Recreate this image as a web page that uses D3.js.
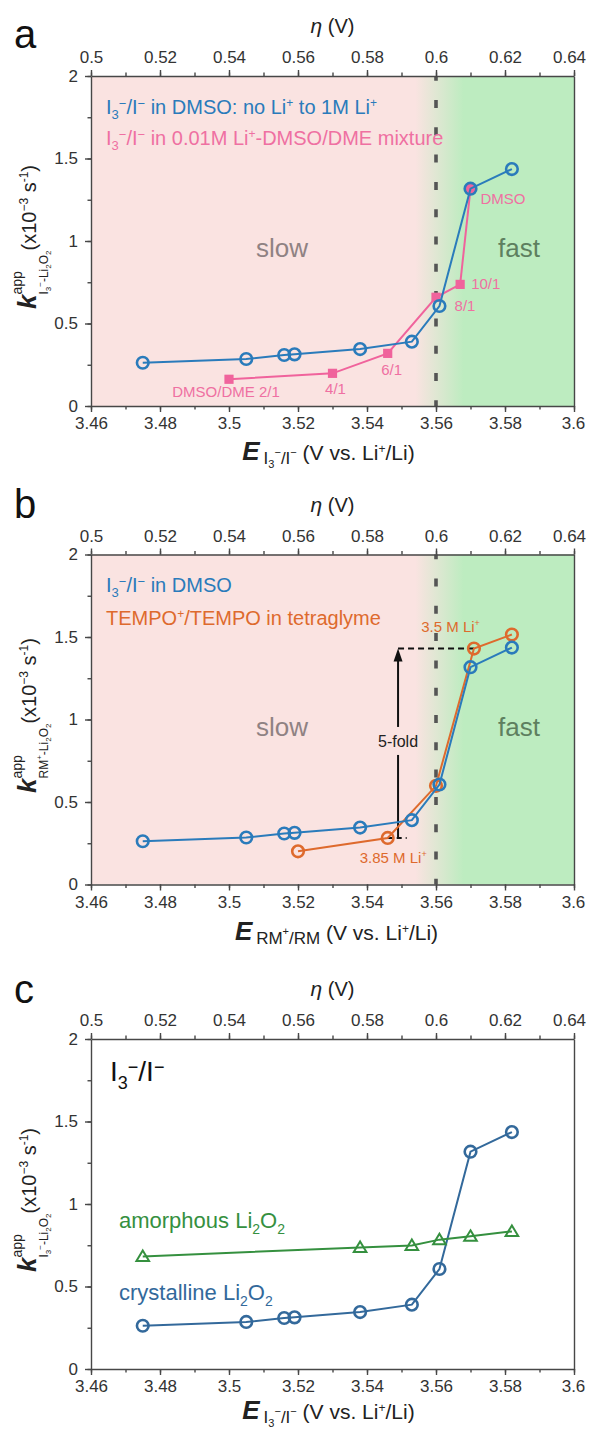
<!DOCTYPE html>
<html><head><meta charset="utf-8">
<script src="https://cdn.jsdelivr.net/npm/d3@7"></script>
<style>
body{margin:0;background:#fff}
svg{display:block}
text{font-family:"Liberation Sans",Arial,Helvetica,sans-serif}
</style>
</head><body>
<svg id="chart" width="589" height="1430"></svg>
<script>
// ---------------- DATA ----------------
const xTickValues = [3.46, 3.48, 3.5, 3.52, 3.54, 3.56, 3.58, 3.6];
const xTickLabels = ["3.46", "3.48", "3.5", "3.52", "3.54", "3.56", "3.58", "3.6"];
const etaTickValues = [0.5, 0.52, 0.54, 0.56, 0.58, 0.6, 0.62, 0.64];
const etaTickLabels = ["0.5", "0.52", "0.54", "0.56", "0.58", "0.6", "0.62", "0.64"];
const yTickValues = [0, 0.5, 1, 1.5, 2];
const yTickLabels = ["0", "0.5", "1", "1.5", "2"];

// I3-/I- in DMSO (crystalline Li2O2)
const E_dmso = [3.475, 3.505, 3.516, 3.519, 3.538, 3.553, 3.561, 3.570, 3.582];
const k_dmso = [0.262, 0.285, 0.309, 0.313, 0.345, 0.390, 0.606, 1.317, 1.436];

// I3-/I- in 0.01M Li+ DMSO/DME mixture
const E_mix = [3.500, 3.530, 3.546, 3.560, 3.567, 3.570];
const k_mix = [0.162, 0.198, 0.319, 0.659, 0.737, 1.317];
const mixLabels = ["DMSO/DME 2/1", "4/1", "6/1", "8/1", "10/1", "DMSO"];

// TEMPO+/TEMPO in tetraglyme
const E_tempo = [3.520, 3.546, 3.560, 3.571, 3.582];
const k_tempo = [0.201, 0.282, 0.598, 1.430, 1.515];
const tempoLabels = ["3.85 M Li", "", "", "3.5 M Li", ""];

// amorphous Li2O2
const E_amorph = [3.475, 3.538, 3.553, 3.561, 3.570, 3.582];
const k_amorph = [0.682, 0.737, 0.749, 0.784, 0.804, 0.834];

// 5-fold annotation (E, k bottom, k top)
const foldE = 3.549;
const foldKLow = 0.282;
const foldKHigh = 1.430;

// ---------------- LAYOUT ----------------
const FONT = '"Liberation Sans",Arial,Helvetica,sans-serif';
const svg = d3.select("#chart");
const L = 91, R = 574, H = 330;
const x = d3.scaleLinear().domain([3.46, 3.6]).range([L, R]);
const eta = d3.scaleLinear().domain([0.5, 0.64]).range([L, R]);

const C = {
  blue: "#2a7bbb", pink: "#f0639c", pinkText: "#ef70a2", orange: "#de6a2d",
  blueC: "#33699b", green: "#35903f", axis: "#474747", tick: "#333",
  pinkBg: "#fae3e1", greenBg: "#bdecc0"
};

const defs = svg.append("defs");
const grad = defs.append("linearGradient").attr("id", "bgGrad")
  .attr("gradientUnits", "userSpaceOnUse")
  .attr("x1", x(3.554)).attr("x2", x(3.568)).attr("y1", 0).attr("y2", 0);
grad.append("stop").attr("offset", "0%").attr("stop-color", C.pinkBg);
grad.append("stop").attr("offset", "100%").attr("stop-color", C.greenBg);

// rich text helper
function renderSeq(g, pieces, start, fill) {
  let cur = start;
  pieces.forEach(p => {
    if (p.stack) {
      const ends = p.stack.map(line => renderSeq(g, line, cur, fill));
      cur = Math.max(...ends);
      return;
    }
    cur += p.dx || 0;
    const t = g.append("text").attr("x", cur).attr("y", p.dy || 0)
      .attr("font-size", p.s).attr("fill", p.fill || fill)
      .text(p.t.replace(/ /g, "\u00A0"));
    if (p.b) t.attr("font-weight", "bold");
    if (p.i) t.attr("font-style", "italic");
    cur += t.node().getComputedTextLength();
  });
  return cur;
}
function rich(parent, pieces, px, py, opts = {}) {
  const g = parent.append("g").attr("transform", `translate(${px},${py}) rotate(${opts.rot || 0})`);
  const inner = g.append("g");
  const w = renderSeq(inner, pieces, 0, opts.fill || "#222");
  if (opts.anchor === "middle") inner.attr("transform", `translate(${-w / 2},0)`);
  return g;
}

function drawAxes(g, y, top) {
  const bottom = top + H;
  const minorX = d3.range(3.46, 3.6001, 0.01);
  const minorEta = d3.range(0.5, 0.6401, 0.01);
  const minorY = d3.range(0, 2.001, 0.25);

  const styleAxis = sel => {
    sel.attr("font-family", FONT).attr("font-size", 17);
    sel.selectAll("path,line").attr("stroke", C.axis).attr("stroke-width", 1.4);
    sel.selectAll("text").attr("fill", C.tick);
  };
  g.append("g").attr("transform", `translate(0,${bottom})`)
    .call(d3.axisBottom(x).tickValues(minorX).tickSize(3.5).tickFormat(""))
    .call(s => s.select(".domain").remove()).call(styleAxis);
  g.append("g").attr("transform", `translate(0,${top})`)
    .call(d3.axisTop(eta).tickValues(minorEta).tickSize(3.5).tickFormat(""))
    .call(s => s.select(".domain").remove()).call(styleAxis);
  g.append("g").attr("transform", `translate(${L},0)`)
    .call(d3.axisLeft(y).tickValues(minorY).tickSize(3.5).tickFormat(""))
    .call(s => s.select(".domain").remove()).call(styleAxis);
  g.append("g").attr("transform", `translate(0,${bottom})`)
    .call(d3.axisBottom(x).tickValues(xTickValues).tickFormat((d, i) => xTickLabels[i])
      .tickSize(6).tickSizeOuter(0).tickPadding(5)).call(styleAxis)
    .call(s => s.selectAll(".tick text").filter(d => d === 3.6).attr("dx", -1));
  g.append("g").attr("transform", `translate(0,${top})`)
    .call(d3.axisTop(eta).tickValues(etaTickValues).tickFormat((d, i) => etaTickLabels[i])
      .tickSize(6).tickSizeOuter(0).tickPadding(7)).call(styleAxis)
    .call(s => s.selectAll(".tick text").filter(d => d === 0.64).attr("dx", -5));
  g.append("g").attr("transform", `translate(${L},0)`)
    .call(d3.axisLeft(y).tickValues(yTickValues).tickFormat((d, i) => yTickLabels[i])
      .tickSize(6).tickSizeOuter(0).tickPadding(7)).call(styleAxis);
  g.append("g").attr("transform", `translate(${R},0)`)
    .call(d3.axisRight(y).tickValues([]).tickSizeOuter(0)).call(styleAxis);
}

function drawSeries(g, xs, ys, y, color, marker) {
  const pts = xs.map((e, i) => [x(e), y(ys[i])]);
  g.append("path").attr("d", d3.line()(pts)).attr("fill", "none")
    .attr("stroke", color).attr("stroke-width", 2);
  const m = g.append("g");
  pts.forEach(p => {
    if (marker === "circle") {
      m.append("circle").attr("cx", p[0]).attr("cy", p[1]).attr("r", 5.8)
        .attr("fill", "none").attr("stroke", color).attr("stroke-width", 2.6);
    } else if (marker === "square") {
      m.append("rect").attr("x", p[0] - 4.6).attr("y", p[1] - 4.6).attr("width", 9.2).attr("height", 9.2)
        .attr("fill", color);
    } else if (marker === "triangle") {
      m.append("path").attr("transform", `translate(${p[0]},${p[1]})`)
        .attr("d", "M0,-6 L6.3,4.5 L-6.3,4.5 Z").attr("fill", "none")
        .attr("stroke", color).attr("stroke-width", 2).attr("stroke-linejoin", "miter");
    }
  });
  return pts;
}

function background(g, top) {
  g.append("rect").attr("x", L).attr("y", top).attr("width", R - L).attr("height", H)
    .attr("fill", "url(#bgGrad)");
  g.append("line").attr("x1", x(3.56)).attr("x2", x(3.56)).attr("y1", top).attr("y2", top + H)
    .attr("stroke", "#555").attr("stroke-width", 3.6)
    .attr("stroke-dasharray", "8,19.3").attr("stroke-dashoffset", 3.3);
  g.append("text").attr("x", x(3.5078)).attr("y", top + 181).attr("font-size", 26)
    .attr("fill", "#8f8283").text("slow");
  g.append("text").attr("x", x(3.578)).attr("y", top + 181).attr("font-size", 26)
    .attr("fill", "#5e7f5f").text("fast");
}

function panelLabels(top, letter, letterY) {
  svg.append("text").attr("x", 14).attr("y", letterY).attr("font-size", 40).attr("fill", "#111").text(letter);
  rich(svg, [{ t: "η", s: 21, i: true }, { t: " (V)", s: 20 }], (L + R) / 2, top - 43, { anchor: "middle", fill: "#222" });
}

function yLabel(top, subPieces) {
  const pieces = [
    { t: "k", s: 26, b: true, i: true },
    { stack: [[{ t: "app", s: 14, dy: -14 }], subPieces] },
    { t: "(x10", s: 20 }, { t: "−3", s: 12, dy: -8 }, { t: " s", s: 20 }, { t: "-1", s: 12, dy: -8 }, { t: ")", s: 20 }
  ];
  rich(svg, pieces, 36, top + H / 2 - 4, { anchor: "middle", rot: -90, fill: "#222" });
}
const subI3 = [
  { t: "I", s: 12, dy: 12 }, { t: "3", s: 8, dy: 15 }, { t: "−", s: 8, dy: 7 },
  { t: "-Li", s: 12, dy: 12 }, { t: "2", s: 8, dy: 15 }, { t: "O", s: 12, dy: 12 }, { t: "2", s: 8, dy: 15 }
];
const subRM = [
  { t: "RM", s: 12, dy: 12 }, { t: "+", s: 8, dy: 6 },
  { t: "-Li", s: 12, dy: 12 }, { t: "2", s: 8, dy: 15 }, { t: "O", s: 12, dy: 12 }, { t: "2", s: 8, dy: 15 }
];
function xLabelI3(baseY) {
  rich(svg, [
    { t: "E", s: 26, b: true, i: true }, { t: " ", s: 14 },
    { t: "I", s: 17, dy: 4 }, { t: "3", s: 11, dy: 8 }, { t: "−", s: 11, dy: -4 },
    { t: "/I", s: 17, dy: 4 }, { t: "−", s: 11, dy: -4 },
    { t: " (V vs. Li", s: 21 }, { t: "+", s: 12, dy: -7 }, { t: "/Li)", s: 21 }
  ], (L + R) / 2 - 4, baseY, { anchor: "middle", fill: "#222" });
}
function xLabelRM(baseY) {
  rich(svg, [
    { t: "E", s: 26, b: true, i: true }, { t: " ", s: 14 },
    { t: "RM", s: 17, dy: 4 }, { t: "+", s: 11, dy: -5 }, { t: "/RM", s: 17, dy: 4 },
    { t: " (V vs. Li", s: 21 }, { t: "+", s: 12, dy: -7 }, { t: "/Li)", s: 21 }
  ], (L + R) / 2 + 4, baseY, { anchor: "middle", fill: "#222" });
}
function legendI3(g, px, py, tail, fill, size) {
  const sm = Math.round(size * 0.65);
  const pieces = [
    { t: "I", s: size }, { t: "3", s: sm, dy: size * 0.27 }, { t: "−", s: sm, dy: -size * 0.3 },
    { t: "/I", s: size }, { t: "−", s: sm, dy: -size * 0.3 }
  ].concat(tail);
  rich(g, pieces, px, py, { fill });
}

// ================= PANEL A =================
{
  const top = 76;
  const y = d3.scaleLinear().domain([0, 2]).range([top + H, top]);
  const g = svg.append("g");
  background(g, top);
  drawSeries(g, E_mix.slice(0, 5), k_mix.slice(0, 5), y, C.pink, "square");
  g.append("path").attr("d", d3.line()([[x(E_mix[4]), y(k_mix[4])], [x(E_mix[5]), y(k_mix[5])]]))
    .attr("stroke", C.pink).attr("stroke-width", 2).attr("fill", "none");
  g.append("circle").attr("cx", x(E_mix[5])).attr("cy", y(k_mix[5])).attr("r", 6).attr("fill", C.pink);
  drawSeries(g, E_dmso, k_dmso, y, C.blue, "circle");
  const off = [[-3, 18, "middle"], [3, 21, "middle"], [4, 22, "middle"], [29, 14, "middle"], [11, 5, "start"], [10, 15, "start"]];
  mixLabels.forEach((lab, i) => {
    g.append("text").attr("x", x(E_mix[i]) + off[i][0]).attr("y", y(k_mix[i]) + off[i][1])
      .attr("text-anchor", off[i][2]).attr("font-size", 15).attr("fill", C.pinkText).text(lab);
  });
  legendI3(g, 106, 114, [{ t: " in DMSO: no Li", s: 20 }, { t: "+", s: 12, dy: -7 }, { t: " to 1M Li", s: 20 }, { t: "+", s: 12, dy: -7 }], C.blue, 20);
  legendI3(g, 106, 145, [{ t: " in 0.01M Li", s: 20 }, { t: "+", s: 12, dy: -7 }, { t: "-DMSO/DME mixture", s: 20 }], C.pinkText, 20);
  drawAxes(g, y, top);
  panelLabels(top, "a", 48);
  yLabel(top, subI3);
  xLabelI3(460);
}

// ================= PANEL B =================
{
  const top = 554.5;
  const y = d3.scaleLinear().domain([0, 2]).range([top + H, top]);
  const g = svg.append("g");
  background(g, top);
  const ax = x(foldE), yLo = y(foldKLow), yHi = y(foldKHigh);
  g.append("line").attr("x1", ax).attr("x2", x(E_tempo[3])).attr("y1", yHi).attr("y2", yHi)
    .attr("stroke", "#111").attr("stroke-width", 2).attr("stroke-dasharray", "6,4");
  g.append("line").attr("x1", x(E_tempo[1])).attr("x2", x(3.5515)).attr("y1", yLo).attr("y2", yLo)
    .attr("stroke", "#111").attr("stroke-width", 2).attr("stroke-dasharray", "5,4");
  const ym = y(0.87);
  g.append("line").attr("x1", ax).attr("x2", ax).attr("y1", yHi + 10).attr("y2", ym - 14)
    .attr("stroke", "#111").attr("stroke-width", 2);
  g.append("line").attr("x1", ax).attr("x2", ax).attr("y1", ym + 14).attr("y2", yLo)
    .attr("stroke", "#111").attr("stroke-width", 2);
  g.append("path").attr("d", `M${ax},${yHi} L${ax + 4.5},${yHi + 13} L${ax - 4.5},${yHi + 13} Z`).attr("fill", "#111");
  g.append("text").attr("x", ax).attr("y", ym + 6).attr("text-anchor", "middle")
    .attr("font-size", 16).attr("fill", "#222").text("5-fold");

  drawSeries(g, E_tempo, k_tempo, y, C.orange, "circle");
  drawSeries(g, E_dmso, k_dmso, y, C.blue, "circle");
  const toff = [[-28, 25], null, null, [-52.7, -16.5], null];
  tempoLabels.forEach((lab, i) => {
    if (!lab) return;
    const px = i === 0 ? x(E_tempo[1]) + toff[i][0] : x(E_tempo[i]) + toff[i][0];
    const py = i === 0 ? y(k_tempo[1]) + toff[i][1] : y(k_tempo[i]) + toff[i][1];
    rich(g, [{ t: lab, s: 15 }, { t: "+", s: 9, dy: -6 }], px, py, { fill: C.orange });
  });
  legendI3(g, 106, 592, [{ t: " in DMSO", s: 20 }], C.blue, 20);
  rich(g, [{ t: "TEMPO", s: 20 }, { t: "+", s: 12, dy: -7 }, { t: "/TEMPO in tetraglyme", s: 20 }], 106, 625, { fill: C.orange });
  drawAxes(g, y, top);
  panelLabels(top, "b", 518);
  yLabel(top, subRM);
  xLabelRM(940);
}

// ================= PANEL C =================
{
  const top = 1039;
  const y = d3.scaleLinear().domain([0, 2]).range([top + H, top]);
  const g = svg.append("g");
  drawSeries(g, E_dmso, k_dmso, y, C.blueC, "circle");
  drawSeries(g, E_amorph, k_amorph, y, C.green, "triangle");
  legendI3(g, 110, 1081, [], "#111", 28);
  rich(g, [{ t: "amorphous Li", s: 22 }, { t: "2", s: 14, dy: 6 }, { t: "O", s: 22 }, { t: "2", s: 14, dy: 6 }], 119, 1228, { fill: C.green });
  rich(g, [{ t: "crystalline Li", s: 22 }, { t: "2", s: 14, dy: 6 }, { t: "O", s: 22 }, { t: "2", s: 14, dy: 6 }], 119, 1300, { fill: C.blueC });
  drawAxes(g, y, top);
  panelLabels(top, "c", 1003);
  yLabel(top, subI3);
  xLabelI3(1419);
}
</script>
</body></html>
